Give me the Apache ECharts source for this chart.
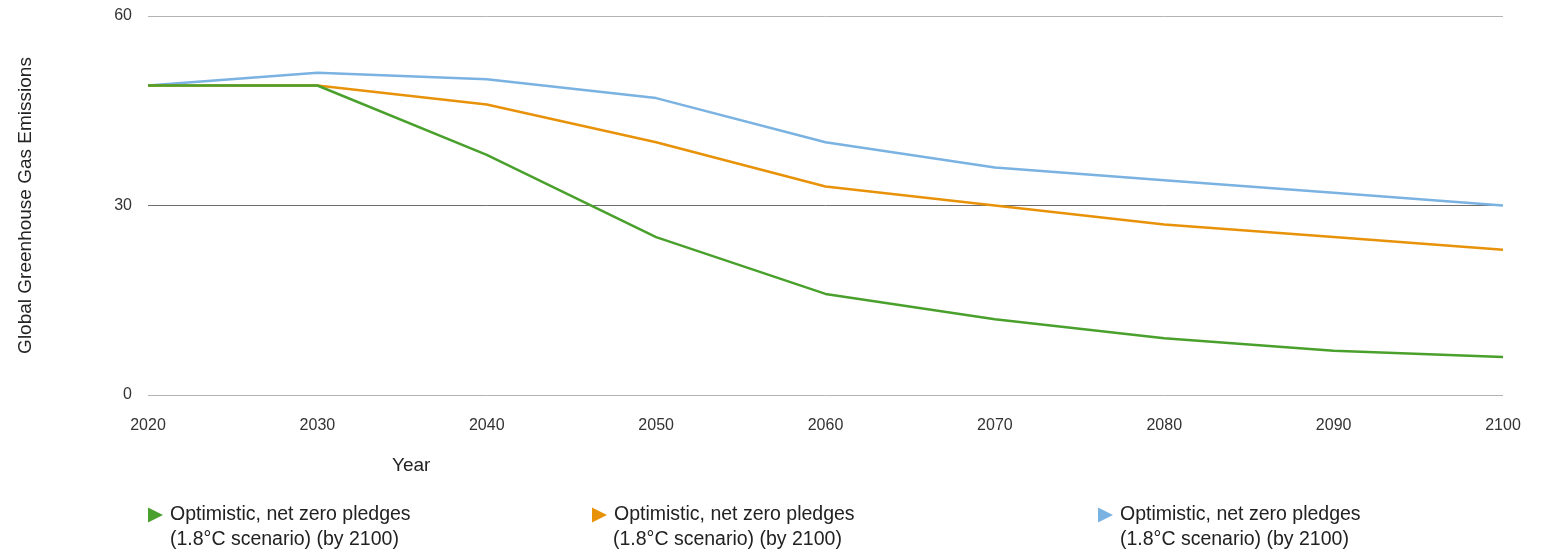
<!DOCTYPE html>
<html>
<head>
<meta charset="utf-8" />
<title>emissions</title>
<style>
  html, body { margin: 0; padding: 0; background: #fff; }
  #chart { width: 1546px; height: 552px; }
</style>
</head>
<body>
<div id="chart"></div>
<script src="https://cdn.jsdelivr.net/npm/echarts@6/dist/echarts.min.js"></script>
<script>
// data
var years = ['2020', '2030', '2040', '2050', '2060', '2070', '2080', '2090', '2100'];
var blueVals   = [49, 51, 50, 47, 40, 36, 34, 32, 30];
var orangeVals = [49, 49, 46, 40, 33, 30, 27, 25, 23];
var greenVals  = [49, 49, 38, 25, 16, 12, 9, 7, 6];
var yTicks = [0, 30, 60];
var legendLine1 = 'Optimistic, net zero pledges';
var legendLine2 = '(1.8°C scenario) (by 2100)';

var GREEN = '#4aa02c', ORANGE = '#e8920a', BLUE = '#7ab2e2';
var FONT = '"Liberation Sans", Arial, sans-serif';
var arrow = 'path://M0,0L15,7.5L0,15Z';

var chart = echarts.init(document.getElementById('chart'));

function legendAt(x, key, color) {
  return {
    left: x, top: 500,
    orient: 'horizontal',
    icon: arrow,
    itemWidth: 15, itemHeight: 15, itemGap: 0,
    itemStyle: { borderWidth: 0 },
    selectedMode: false,
    data: [{ name: key, itemStyle: { color: color } }],
    formatter: function () { return legendLine1; },
    textStyle: { fontFamily: FONT, fontSize: 19.5, color: '#222', padding: [0, 0, 0, 2] }
  };
}

function secondLine(x) {
  return {
    type: 'text', left: x, top: 530,
    style: { text: legendLine2, font: '19.5px ' + FONT, fill: '#222' }
  };
}

chart.setOption({
  animation: false,
  grid: { left: 148, right: 43, top: 16, bottom: 157, containLabel: false },
  legend: [
    legendAt(143, 'green', GREEN),
    legendAt(587, 'orange', ORANGE),
    legendAt(1093, 'blue', BLUE)
  ],
  graphic: [
    secondLine(170), secondLine(613), secondLine(1120),
    {
      type: 'text', left: 392, top: 456,
      style: { text: 'Year', font: '19px ' + FONT, fill: '#222' }
    }
  ],
  xAxis: {
    type: 'category',
    data: years,
    boundaryGap: false,
    axisLine: { show: false },
    axisTick: { show: false },
    axisLabel: { margin: 23, fontFamily: FONT, fontSize: 16, color: '#333' },
    splitLine: { show: false }
  },
  yAxis: {
    type: 'value',
    min: yTicks[0], max: yTicks[2], interval: yTicks[1],
    name: 'Global Greenhouse Gas Emissions',
    nameLocation: 'middle',
    nameGap: 113,
    nameTextStyle: { fontFamily: FONT, fontSize: 19, color: '#222' },
    axisLine: { show: false },
    axisTick: { show: false },
    axisLabel: { margin: 16, fontFamily: FONT, fontSize: 16, color: '#333' },
    splitLine: { show: true, lineStyle: { width: 1, color: ['#b4b4b4', '#6e6e6e', '#b4b4b4'] } }
  },
  series: [
    { name: 'blue', type: 'line', data: blueVals, symbol: 'none', color: BLUE, lineStyle: { width: 2.5, color: BLUE } },
    { name: 'orange', type: 'line', data: orangeVals, symbol: 'none', color: ORANGE, lineStyle: { width: 2.5, color: ORANGE } },
    { name: 'green', type: 'line', data: greenVals, symbol: 'none', color: GREEN, lineStyle: { width: 2.5, color: GREEN } }
  ]
});

window.onresize = function () { chart.resize(); };
</script>
</body>
</html>
